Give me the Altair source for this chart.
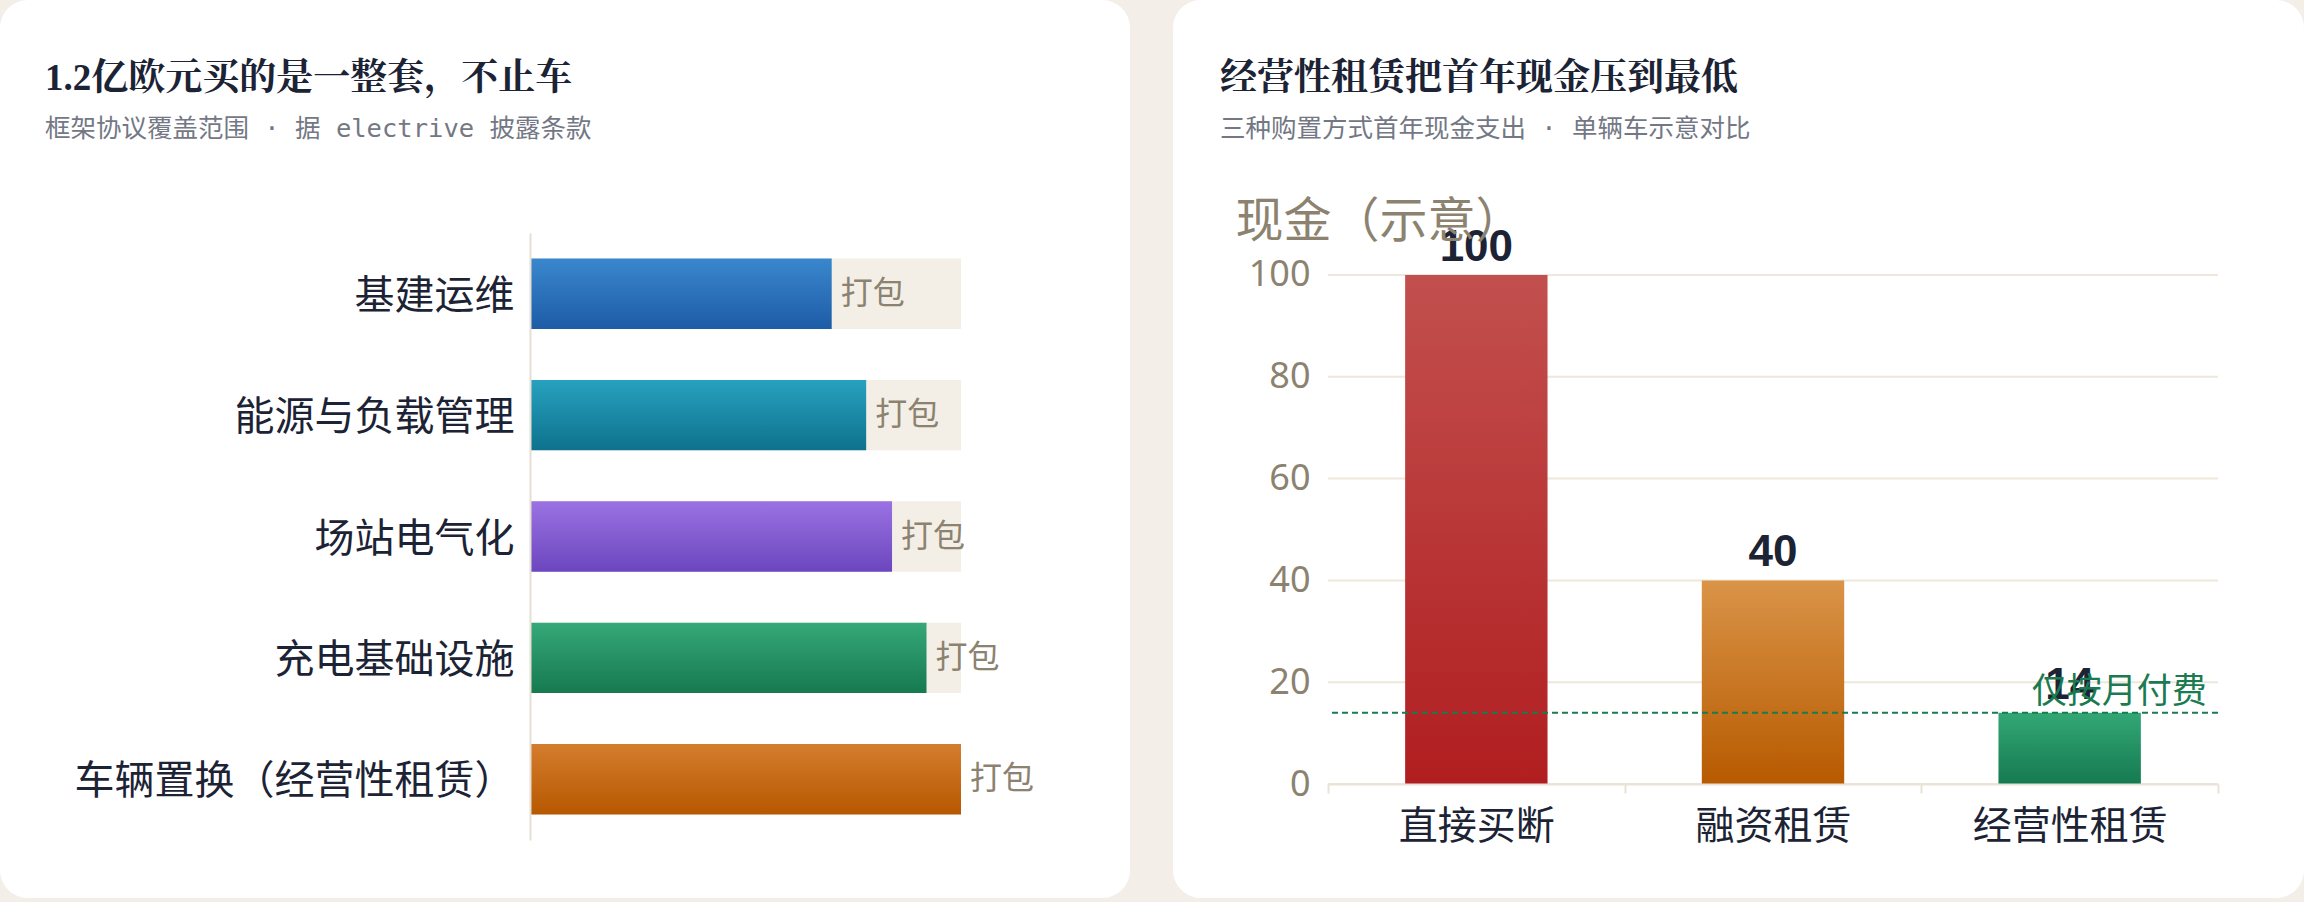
import altair as alt
import pandas as pd

# ---------------- data ----------------
left_categories = ["基建运维", "能源与负载管理", "场站电气化", "充电基础设施", "车辆置换（经营性租赁）"]
left_values = [70, 78, 84, 92, 100]
left_full = [100, 100, 100, 100, 100]
left_tags = ["打包", "打包", "打包", "打包", "打包"]
left_top_colors = ["#3a87cd", "#27a1bf", "#9a72e2", "#36a878", "#d47d2e"]
left_bottom_colors = ["#1d5ca6", "#0e728d", "#6c46bf", "#167950", "#b75800"]

right_categories = ["直接买断", "融资租赁", "经营性租赁"]
right_values = [100, 40, 14]
right_ticks = [0, 20, 40, 60, 80, 100]
right_domain = [0, 108.25]
right_top_colors = ["#c2504e", "#da9448", "#33a775"]
right_bottom_colors = ["#b11e20", "#b75a00", "#157a50"]
threshold = [14]
threshold_label = ["仅按月付费"]
threshold_cat = ["经营性租赁"]

left_title = "1.2亿欧元买的是一整套，不止车"
left_subtitle = "框架协议覆盖范围 · 据 electrive 披露条款"
right_title = "经营性租赁把首年现金压到最低"
right_subtitle = "三种购置方式首年现金支出 · 单辆车示意对比"
right_axis_title = "现金（示意）"

BG = "#f3efe8"
NAVY = "#1c2335"
MUTED = "#8c8270"
LINE = "#e9e2d6"
GREEN = "#1a7a50"
SANS = "Noto Sans CJK SC"
TITLE_FONT = "Liberation Serif, Noto Serif CJK SC, Noto Sans CJK SC"
SUB_FONT = "DejaVu Sans Mono, Noto Sans CJK SC"


def grad(top, bottom):
    return alt.Gradient(
        gradient="linear",
        stops=[alt.GradientStop(color=top, offset=0), alt.GradientStop(color=bottom, offset=1)],
        x1=0, x2=0, y1=0, y2=1,
    )


def card(x0, x1, y0, y1):
    return alt.Chart(pd.DataFrame({"card": [0]})).mark_rect(
        color="white", cornerRadius=28
    ).encode(x=alt.value(x0), x2=alt.value(x1), y=alt.value(y0), y2=alt.value(y1))


def title_params(text, sub, dx):
    return alt.TitleParams(
        text=text, subtitle=sub, anchor="start", frame="bounds", offset=-143, dx=dx,
        font=TITLE_FONT, fontSize=37, fontWeight="bold", color=NAVY,
        subtitleFont=SUB_FONT, subtitleFontSize=25.5, subtitleColor="#737884",
        subtitlePadding=19,
    )


# ---------------- left panel ----------------
LW, LH = 431, 607
ldf = pd.DataFrame({"cat": left_categories, "v": left_values, "full": left_full, "tag": left_tags})

ly = alt.Y(
    "cat:N",
    scale=alt.Scale(domain=left_categories, paddingInner=0.42, paddingOuter=0.21),
    axis=alt.Axis(
        labelFont=SANS, labelFontSize=40, labelColor=NAVY, labelPadding=16, labelLimit=700,
        labelOffset=3, ticks=False, domainColor="#e6dfd5", domainWidth=2, grid=False, zindex=1,
    ),
    title=None,
)
lxs = alt.Scale(domain=[0, 100])

left_layers = [card(-530, 600, -233, 665)]
left_layers.append(
    alt.Chart(ldf).mark_bar(color="#f3efe7").encode(
        x=alt.X("full:Q", scale=lxs, axis=None), y=ly
    )
)
for i, c in enumerate(left_categories):
    left_layers.append(
        alt.Chart(ldf).transform_filter(alt.datum.cat == c).mark_bar(
            color=grad(left_top_colors[i], left_bottom_colors[i])
        ).encode(x=alt.X("v:Q", scale=lxs, axis=None), y=ly)
    )
left_layers.append(
    alt.Chart(ldf).mark_text(
        align="left", baseline="middle", dx=9, font=SANS, fontSize=32, color=MUTED
    ).encode(x=alt.X("v:Q", scale=lxs, axis=None), y=ly, text="tag:N")
)
left = alt.layer(*left_layers).properties(
    width=LW, height=LH, title=title_params(left_title, left_subtitle, 45)
)

# ---------------- right panel ----------------
RW, RH = 890, 551
rdf = pd.DataFrame({"cat": right_categories, "v": right_values})
tdf = pd.DataFrame({"cat": threshold_cat, "t": threshold, "label": threshold_label})
gdf = pd.DataFrame({"g": right_ticks})


def rx(field):
    return alt.X(
        field + ":N",
        scale=alt.Scale(domain=right_categories, paddingInner=0, paddingOuter=0),
        axis=alt.Axis(
            labelAngle=0, labelFont=SANS, labelFontSize=39, labelColor=NAVY, labelPadding=14,
            labelLimit=400, domainColor=LINE, domainWidth=2, tickColor=LINE, tickWidth=2,
            tickSize=9, tickBand="extent", grid=False, zindex=1,
        ),
        title=None,
    )


def ry(field):
    return alt.Y(
        field + ":Q",
        scale=alt.Scale(domain=right_domain, nice=False),
        axis=alt.Axis(
            values=right_ticks, labelFont="Noto Sans", labelFontSize=36, labelColor=MUTED,
            labelPadding=18, ticks=False, domain=False, grid=False, zindex=1,
            titleAngle=0, titleAlign="left", titleBaseline="alphabetic", titleX=-93, titleY=3,
            titleFont=SANS, titleFontSize=48, titleFontWeight="normal", titleColor=MUTED,
        ),
        title=right_axis_title,
    )


right_layers = [card(-155, 976, -233, 665)]
right_layers.append(
    alt.Chart(gdf).mark_rule(color="#ede7dc", strokeWidth=2).encode(y=ry("g"))
)
for i, c in enumerate(right_categories):
    right_layers.append(
        alt.Chart(rdf).transform_filter(alt.datum.cat == c).mark_bar(
            color=grad(right_top_colors[i], right_bottom_colors[i]),
            width=alt.RelativeBandSize(0.48),
        ).encode(x=rx("cat"), y=ry("v"))
    )
right_layers.append(
    alt.Chart(rdf).mark_text(
        baseline="alphabetic", dy=-14, font="Liberation Sans", fontSize=44,
        fontWeight="bold", color=NAVY,
    ).encode(x=rx("cat"), y=ry("v"), text="v:Q")
)
right_layers.append(
    alt.Chart(tdf).mark_rule(color=GREEN, strokeWidth=2, strokeDash=[6, 4]).encode(y=ry("t"))
)
right_layers.append(
    alt.Chart(tdf).mark_text(
        align="right", baseline="alphabetic", dx=137, dy=-10, font=SANS, fontSize=35, color=GREEN
    ).encode(x=rx("cat"), y=ry("t"), text="label:N")
)
right = alt.layer(*right_layers).properties(
    width=RW, height=RH, title=title_params(right_title, right_subtitle, 47)
)

chart = alt.hconcat(left, right, spacing=43).properties(
    background=BG, padding={"left": 0, "top": 0, "right": 0, "bottom": 4}
).configure_view(stroke=None)

chart.save("out.html", embed_options={"renderer": "svg", "actions": False})
